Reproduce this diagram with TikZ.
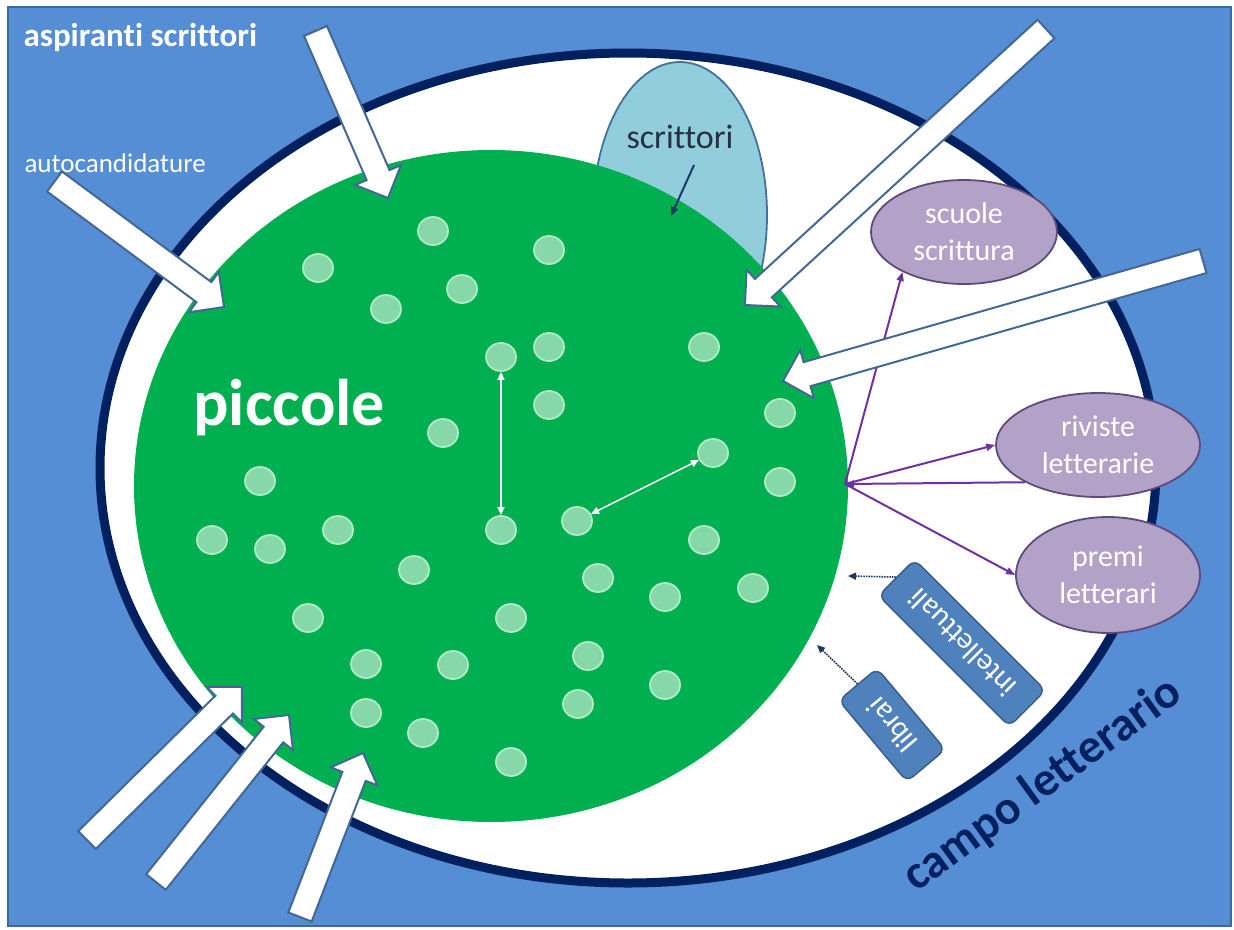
\documentclass[tikz,border=0pt]{standalone}
\usepackage{fontspec}
\setmainfont{Carlito}[Ligatures={NoCommon}]
\usetikzlibrary{shapes.geometric,calc,arrows.meta}

\definecolor{bgblue}{RGB}{85,142,213}
\definecolor{framecol}{RGB}{60,105,160}
\definecolor{navy}{RGB}{0,32,96}
\definecolor{fieldgreen}{RGB}{0,176,80}
\definecolor{seedfill}{RGB}{134,216,168}
\definecolor{seedline}{RGB}{178,234,200}
\definecolor{writerfill}{RGB}{146,205,220}
\definecolor{writerline}{RGB}{65,113,156}
\definecolor{writertext}{RGB}{38,48,64}
\definecolor{lilac}{RGB}{179,162,199}
\definecolor{lilacline}{RGB}{96,74,123}
\definecolor{violet}{RGB}{112,48,160}
\definecolor{boxblue}{RGB}{79,129,189}
\definecolor{boxline}{RGB}{56,93,138}
\definecolor{arrowline}{RGB}{68,104,150}
\definecolor{darknavy}{RGB}{31,56,100}

\tikzset{
  seed/.style={ellipse, minimum width=30pt, minimum height=28pt, inner sep=0pt,
    fill=seedfill, draw=seedline, line width=1.8pt},
  agency/.style={ellipse, inner sep=0pt, fill=lilac, draw=lilacline, line width=1.8pt,
    text=white, align=center, font=\fontsize{30}{37}\selectfont},
  fieldbox/.style={rectangle, rounded corners=8pt, inner sep=0pt, fill=boxblue,
    draw=boxline, line width=1.5pt, text=white, font=\fontsize{30}{36}\selectfont},
  varrow/.style={draw=violet, line width=2pt, -{Triangle[length=9pt,width=7pt]}},
  dotarrow/.style={draw=darknavy, line width=1.6pt, densely dotted,
    -{Triangle[length=8pt,width=7pt]}},
  whitelink/.style={draw=white, line width=1.5pt,
    {Triangle[length=8pt,width=7pt]}-{Triangle[length=8pt,width=7pt]}},
  bigarrow/.style={fill=white, draw=arrowline, line width=2pt, line join=miter},
}

% white block arrow from tail centre #1 to tip #2
\newcommand{\blockarrow}[2]{%
  \coordinate (ba-neck) at ($(#2)!25pt!(#1)$);
  \filldraw[bigarrow]
    ($(#1)!12.5pt!90:(#2)$) -- ($(ba-neck)!12.5pt!90:(#2)$) --
    ($(ba-neck)!25pt!90:(#2)$) -- (#2) -- ($(ba-neck)!25pt!-90:(#2)$) --
    ($(ba-neck)!12.5pt!-90:(#2)$) -- ($(#1)!12.5pt!-90:(#2)$) -- cycle;}

\begin{document}
\begin{tikzpicture}[x=1pt, y=-1pt]
\useasboundingbox (0,0) rectangle (1234,929);
\fill[white] (0,0) rectangle (1234,929);

% outer world and literary field
\filldraw[fill=bgblue, draw=framecol, line width=2.5pt] (8,7) rectangle (1231,926);
\filldraw[fill=white, draw=navy, line width=9pt] (628,468) ellipse [x radius=528pt, y radius=415pt];

% established writers
\node[ellipse, minimum width=174pt, minimum height=306pt, inner sep=0pt,
      fill=writerfill, draw=writerline, line width=1.8pt] (writers) at (680,215) {};

% small publishers
\fill[fieldgreen] (491,486) ellipse [x radius=357pt, y radius=336pt];

\node[text=writertext, font=\fontsize{34}{40}\selectfont, anchor=base] (writerlabel) at (680,148) {scrittori};
\coordinate (wstart) at (694,165);
\coordinate (wend) at (671,216);
\draw[draw=darknavy, line width=2pt, -{Triangle[length=9pt,width=7pt]}] (wstart) -- (wend);

% publishers as seeds
\foreach \n/\px/\py in {
  1/433/231, 2/549/250, 3/318/268, 4/462/289, 5/386/309, 6/501/357, 7/549/347,
  8/704/347, 9/549/405, 10/443/433, 11/780/413, 12/713/453, 13/260/481, 14/780/482,
  15/212/540, 16/270/549, 17/338/530, 18/501/530, 19/577/521, 20/704/540, 21/414/570,
  22/598/578, 23/665/597, 24/753/588, 25/308/618, 26/511/618, 27/366/664, 28/453/665,
  29/588/656, 30/665/685, 31/366/713, 32/423/733, 33/578/704, 34/511/762}
  \node[seed] (s\n) at (\px,\py) {};

\draw[whitelink] (s6) -- (s18);
\draw[whitelink] (s19) -- (s12);

\node[text=white, font=\fontsize{66}{72}\selectfont\bfseries, anchor=base west] (piccole) at (190,425) {piccole};
\node[text=white, font=\fontsize{33}{38}\selectfont\bfseries, anchor=base west] (aspiranti) at (20,46) {aspiranti scrittori};
\node[text=white, font=\fontsize{27}{32}\selectfont, anchor=base west] (autocand) at (21,172) {autocandidature};

% agencies of consecration
\node[agency, minimum width=186pt, minimum height=104pt] (scuole) at (964,232) {scuole\\scrittura};
\node[agency, minimum width=204pt, minimum height=104pt] (riviste) at (1098,445) {riviste\\letterarie};
\node[agency, minimum width=184pt, minimum height=116pt] (premi) at (1108,575) {premi\\letterari};

\coordinate (hub) at (845,484);
\draw[varrow] (hub) -- (scuole.213);
\draw[varrow] (hub) -- (riviste.west);
\draw[varrow] (hub) -- (premi.west);
\draw[varrow] (riviste.207) -- (hub);

% mediators
\node[fieldbox, minimum width=185pt, minimum height=51pt, rotate=135] (intel) at (962,643) {intellettuali};
\node[fieldbox, minimum width=106pt, minimum height=50pt, rotate=130] (librai) at (892,725) {librai};
\coordinate (intelhead) at (848,576);
\coordinate (libraihead) at (817,645);
\draw[dotarrow] (intel.east) -- (intelhead);
\draw[dotarrow] (librai.east) -- (libraihead);

\node[text=navy, font=\fontsize{48}{56}\selectfont\bfseries, rotate=36] (campo) at (1043,785) {campo letterario};

% incoming aspiring writers
\coordinate (a1t) at (315.5,31);   \coordinate (a1h) at (388,198);
\coordinate (a2t) at (54.5,181.5); \coordinate (a2h) at (224,307);
\coordinate (a3t) at (1046,29);    \coordinate (a3h) at (745,305);
\coordinate (a4t) at (1203,261);   \coordinate (a4h) at (783,381);
\coordinate (a5t) at (87,840);     \coordinate (a5h) at (242,687);
\coordinate (a6t) at (156,882);    \coordinate (a6h) at (289,715);
\coordinate (a7t) at (300,917);    \coordinate (a7h) at (363,753);
\blockarrow{a1t}{a1h}
\blockarrow{a2t}{a2h}
\blockarrow{a3t}{a3h}
\blockarrow{a4t}{a4h}
\blockarrow{a5t}{a5h}
\blockarrow{a6t}{a6h}
\blockarrow{a7t}{a7h}
\end{tikzpicture}
\end{document}
